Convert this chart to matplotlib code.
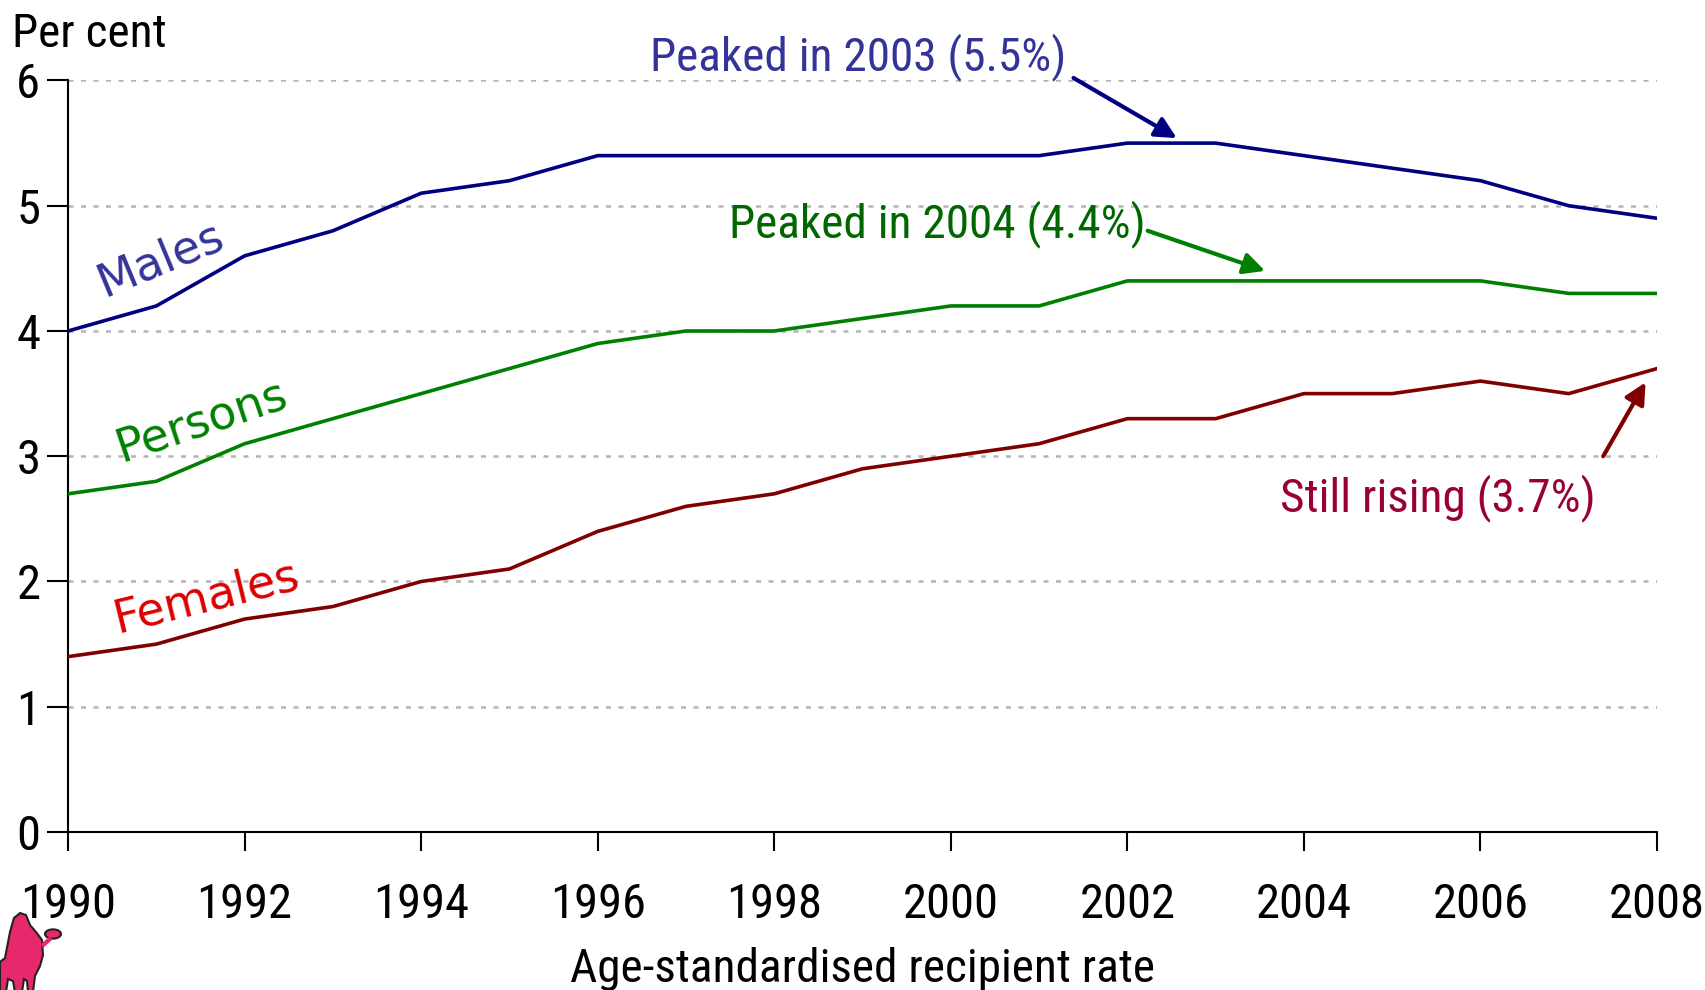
import matplotlib
matplotlib.use("Agg")
import matplotlib.pyplot as plt
from matplotlib.patches import Polygon, Circle
import numpy as np

years = list(range(1990, 2009))
males = [4.0, 4.2, 4.6, 4.8, 5.1, 5.2, 5.4, 5.4, 5.4, 5.4, 5.4, 5.4, 5.5, 5.5, 5.4, 5.3, 5.2, 5.0, 4.9]
persons = [2.7, 2.8, 3.1, 3.3, 3.5, 3.7, 3.9, 4.0, 4.0, 4.1, 4.2, 4.2, 4.4, 4.4, 4.4, 4.4, 4.4, 4.3, 4.3]
females = [1.4, 1.5, 1.7, 1.8, 2.0, 2.1, 2.4, 2.6, 2.7, 2.9, 3.0, 3.1, 3.3, 3.3, 3.5, 3.5, 3.6, 3.5, 3.7]
xticks = list(range(1990, 2009, 2))
yticks = [0, 1, 2, 3, 4, 5, 6]

NARROW = ['Liberation Sans Narrow', 'Roboto Condensed', 'DejaVu Sans']
W, H = 1706, 990

fig = plt.figure(figsize=(17.06, 9.90), dpi=100)
ax = fig.add_axes([0.0399, 0.1596, 0.9314, 0.7591])

ax.plot(years, males, color='#000080', lw=2.6, zorder=3)
ax.plot(years, persons, color='#008000', lw=2.6, zorder=3)
ax.plot(years, females, color='#800000', lw=2.6, zorder=3)

ax.set_xlim(1990, 2008)
ax.set_ylim(0, 6)
ax.set_xticks(xticks)
ax.set_yticks(yticks)
ax.set_xticklabels([str(t) for t in xticks], family=NARROW, fontsize=35)
ax.set_yticklabels([str(t) for t in yticks], family=NARROW, fontsize=35)
ax.tick_params(axis='x', length=14, width=1.5, pad=22, direction='out')
ax.tick_params(axis='y', length=15, width=1.5, pad=5, direction='out')
for s in ['top', 'right']:
    ax.spines[s].set_visible(False)
for s in ['left', 'bottom']:
    ax.spines[s].set_linewidth(1.5)

for y in yticks[1:]:
    ax.axhline(y, color='#b4b4b4', lw=1.8, ls=(0, (2, 3)), zorder=1)

ax.set_xlabel('Age-standardised recipient rate', family=NARROW, fontsize=34, labelpad=14)
fig.text(0.007, 0.966, 'Per cent', family=NARROW, fontsize=34,
         va='center', ha='left')

# series labels
ax.text(1991.05, 4.57, 'Males', color='#333399', fontsize=33, rotation=22.5,
        ha='center', va='center', rotation_mode='anchor')
ax.text(1991.52, 3.28, 'Persons', color='#008000', fontsize=33, rotation=18.5,
        ha='center', va='center', rotation_mode='anchor')
ax.text(1991.57, 1.87, 'Females', color='#dd0000', fontsize=33, rotation=13.8,
        ha='center', va='center', rotation_mode='anchor')

# annotations
ax.annotate('', xy=(2002.56, 5.54), xytext=(2001.39, 6.02),
            arrowprops=dict(arrowstyle='-|>', color='#000080', lw=3, mutation_scale=32,
                            shrinkA=0, shrinkB=0), annotation_clip=False)
ax.text(1998.95, 6.19, 'Peaked in 2003 (5.5%)', color='#333399', family=NARROW,
        fontsize=34, ha='center', va='center')

ax.annotate('', xy=(2003.56, 4.48), xytext=(2002.23, 4.80),
            arrowprops=dict(arrowstyle='-|>', color='#008000', lw=3, mutation_scale=32,
                            shrinkA=0, shrinkB=0))
ax.text(1999.85, 4.85, 'Peaked in 2004 (4.4%)', color='#006600', family=NARROW,
        fontsize=34, ha='center', va='center')

ax.annotate('', xy=(2007.87, 3.59), xytext=(2007.39, 3.0),
            arrowprops=dict(arrowstyle='-|>', color='#800000', lw=3, mutation_scale=32,
                            shrinkA=0, shrinkB=0))
ax.text(2005.52, 2.67, 'Still rising (3.7%)', color='#990033', family=NARROW,
        fontsize=34, ha='center', va='center')

# decorative logo (bottom-left)
def fp(pts):
    return [(x / W, 1 - y / H) for x, y in pts]

logo = [(0, 962), (5, 958), (10, 932), (14, 918), (20, 913), (26, 915), (30, 925),
        (36, 932), (42, 940), (43, 955), (40, 966), (35, 976), (33, 992), (28, 992),
        (27, 981), (24, 979), (22, 992), (15, 992), (13, 981), (8, 979), (6, 992), (0, 992)]
fig.patches.append(Polygon(fp(logo), closed=True, transform=fig.transFigure,
                           facecolor='#e8286c', edgecolor='#222222', lw=1.5, zorder=5))
fig.patches.append(Polygon(fp([(41, 944), (50, 936), (52, 940), (43, 948)]), closed=True,
                           transform=fig.transFigure, facecolor='#e8286c',
                           edgecolor='none', zorder=6))
fig.patches.append(Circle((53 / W, 1 - 934 / H), 8 / W, transform=fig.transFigure,
                          facecolor='#e8286c', edgecolor='#222222', lw=1.5, zorder=5))

fig.savefig('out.png', dpi=100)
